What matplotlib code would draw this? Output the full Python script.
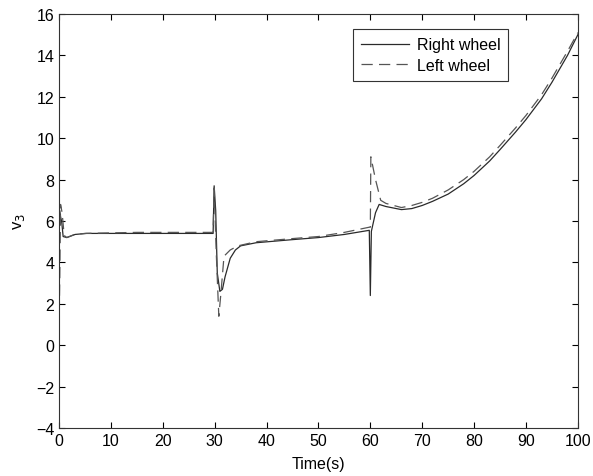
import matplotlib
matplotlib.use("Agg")
import matplotlib.pyplot as plt

plt.rcParams['font.family'] = ['Liberation Sans', 'DejaVu Sans']

# Right wheel (solid)
t_right = [0.0, 0.15, 0.3, 0.5, 0.8, 1.5, 3.1, 5.3, 15, 25, 29.7, 29.9, 30.2, 30.5, 31.0, 31.5,
           32.0, 33.0, 34.0, 35.0, 38.0, 45.0, 50.0, 55.0, 59.8, 60.0, 60.2, 61.0, 61.7, 63.0,
           66.0, 68.0, 70.0, 72.0, 75.0, 78.0, 80.0, 83.0, 85.0, 88.0, 90.0, 93.0, 95.0,
           98.0, 100.0]
v_right = [6.3, 6.5, 6.2, 6.0, 5.25, 5.2, 5.35, 5.4, 5.4, 5.4, 5.4, 7.7, 6.5, 3.5, 2.6, 2.7,
           3.3, 4.2, 4.6, 4.8, 4.95, 5.1, 5.2, 5.35, 5.55, 2.4, 5.5, 6.4, 6.8, 6.7,
           6.55, 6.6, 6.75, 6.95, 7.3, 7.8, 8.2, 8.9, 9.45, 10.3, 10.9, 11.9, 12.7,
           14.0, 15.0]

# Left wheel (dashed)
t_left = [0.0, 0.15, 0.3, 0.6, 1.0, 1.5, 3.0, 5.0, 15, 25, 29.7, 29.9, 30.3, 30.8, 31.2, 31.8,
          33.0, 34.5, 38.0, 45.0, 50.0, 55.0, 59.8, 60.0, 60.1, 61.0, 62.0, 63.0, 66.0, 68.0,
          70.0, 72.0, 75.0, 78.0, 80.0, 83.0, 85.0, 88.0, 90.0, 93.0, 95.0, 98.0, 100.0]
v_left = [0.7, 3.3, 6.8, 6.4, 5.3, 5.2, 5.35, 5.4, 5.45, 5.45, 5.45, 7.6, 4.5, 1.4, 2.5, 4.3,
          4.6, 4.8, 5.0, 5.15, 5.25, 5.45, 5.7, 5.7, 9.1, 8.0, 7.0, 6.85, 6.65, 6.75,
          6.9, 7.1, 7.5, 8.0, 8.4, 9.1, 9.65, 10.5, 11.1, 12.1, 12.9, 14.2, 15.1]

xticks = list(range(0, 101, 10))
yticks = list(range(-4, 17, 2))

fig = plt.figure(figsize=(5.93, 4.77), dpi=100)
ax = fig.add_axes([0.0995, 0.1006, 0.875, 0.868])

ax.plot(t_right, v_right, color='#2a2a2a', lw=0.9, linestyle='-', label='Right wheel')
ax.plot(t_left, v_left, color='#555555', lw=0.9, linestyle=(0, (9, 5)), label='Left wheel')

ax.set_xlim(0, 100)
ax.set_ylim(-4, 16)
ax.set_xticks(xticks)
ax.set_yticks(yticks)
ax.tick_params(direction='in', top=True, right=True, labelsize=11.5, length=4, width=0.8)
for s in ax.spines.values():
    s.set_linewidth(0.8)
    s.set_color('#333333')

ax.set_xlabel('Time(s)', fontsize=11.5, labelpad=6)
ax.set_ylabel(r'v$_3$', fontsize=12, labelpad=6)

leg = ax.legend(loc='upper right', bbox_to_anchor=(0.875, 0.975), fontsize=11.5,
                handlelength=3.0, handletextpad=0.5, fancybox=False, framealpha=1,
                edgecolor='#333333', borderpad=0.5, labelspacing=0.35, borderaxespad=0.3)
leg.get_frame().set_linewidth(0.8)

fig.savefig('out.png', dpi=100)
